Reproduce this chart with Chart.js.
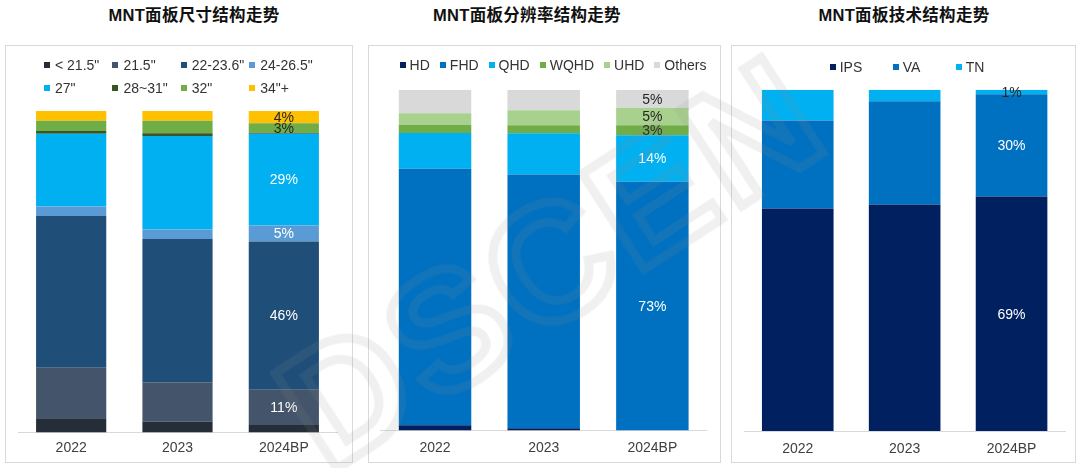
<!DOCTYPE html>
<html><head><meta charset="utf-8">
<script src="https://cdn.jsdelivr.net/npm/chart.js@4/dist/chart.umd.min.js"></script>
<style>
body{margin:0;width:1080px;height:468px;background:#fff;position:relative;overflow:hidden;font-family:"Liberation Sans",Arial,sans-serif}
.title{position:absolute;top:5px;font-weight:bold;font-size:16.5px;font-family:"Liberation Sans","Noto Sans CJK SC",sans-serif;letter-spacing:0.3px;color:#111;white-space:nowrap;transform:translateX(-50%);line-height:20px}
.panel{position:absolute;top:45px;height:418px;border:1px solid #d9d9d9;box-sizing:border-box;background:#fff}
.panel canvas{position:absolute;left:0;top:0}
.wm{position:absolute;left:552px;top:262px;transform:translate(-50%,-50%) rotate(-33deg);font:bold 165px "Liberation Sans",Arial,sans-serif;color:transparent;-webkit-text-stroke:9px rgba(140,140,140,0.13);letter-spacing:6px;white-space:nowrap;pointer-events:none;line-height:1}
</style>
</head><body>
<div class="title" style="left:194px">MNT面板尺寸结构走势</div>
<div class="title" style="left:527px">MNT面板分辨率结构走势</div>
<div class="title" style="left:904px">MNT面板技术结构走势</div>
<div class="panel" style="left:5px;width:348px"><canvas id="c1" width="346" height="426"></canvas></div>
<div class="panel" style="left:368px;width:353px"><canvas id="c2" width="351" height="426"></canvas></div>
<div class="panel" style="left:731px;width:345px"><canvas id="c3" width="343" height="426"></canvas></div>
<div class="wm">DSCEN</div>
<script>
// ---------- data ----------
const categories = ['2022', '2023', '2024BP'];

// Panel 1: size structure (%), bottom -> top
const sizeSeriesNames = ['< 21.5"', '21.5"', '22-23.6"', '24-26.5"', '27"', '28~31"', '32"', '34"+'];
const sizeBelow215 = [4.4, 3.4, 2.3];
const size215      = [15.7, 12.2, 11.0];
const size22to236  = [47.2, 44.6, 46.1];
const size24to265  = [3.0, 2.9, 5.0];
const size27       = [22.6, 29.1, 28.5];
const size28to31   = [0.9, 0.9, 0.3];
const size32       = [3.2, 3.9, 3.0];
const size34plus   = [3.0, 3.0, 3.8];
const sizeLabels2024 = ['', '11%', '46%', '5%', '29%', '', '3%', '4%'];

// Panel 2: resolution structure (%)
const resSeriesNames = ['HD', 'FHD', 'QHD', 'WQHD', 'UHD', 'Others'];
const resHD     = [1.5, 0.6, 0.0];
const resFHD    = [75.3, 74.5, 73.0];
const resQHD    = [10.5, 12.1, 13.6];
const resWQHD   = [2.4, 2.4, 3.0];
const resUHD    = [3.4, 4.4, 5.1];
const resOthers = [6.9, 6.0, 5.3];
const resLabels2024 = ['', '73%', '14%', '3%', '5%', '5%'];

// Panel 3: technology structure (%)
const techSeriesNames = ['IPS', 'VA', 'TN'];
const techIPS = [65.2, 66.4, 68.7];
const techVA  = [25.8, 30.2, 30.0];
const techTN  = [9.0, 3.4, 1.3];
const techLabels2024 = ['69%', '30%', '1%'];

// ---------- styles ----------
const FONT = '"Liberation Sans", Arial, sans-serif';
const DARK = '#262626', WHITE = '#ffffff';

// ---------- plugins ----------
const customLegend = {
  id: 'customLegend',
  afterDraw(chart, args, o) {
    if (!o || !o.mode) return;
    const ctx = chart.ctx, ds = chart.data.datasets, sz = o.box;
    ctx.save();
    ctx.font = o.fontSize + 'px ' + FONT;
    ctx.textBaseline = 'middle';
    ctx.textAlign = 'left';
    const drawItem = (d, cx, cy) => {
      ctx.fillStyle = d.backgroundColor;
      ctx.fillRect(Math.round(cx - sz / 2), Math.round(cy - sz / 2), sz, sz);
      ctx.fillStyle = o.color;
      ctx.fillText(d.label, cx + o.textOff, cy + 1);
    };
    if (o.mode === 'grid') {
      ds.forEach((d, i) => {
        const col = i % o.cols, row = Math.floor(i / o.cols);
        drawItem(d, o.x0 + col * o.colW, o.rows[row]);
      });
    } else {
      const widths = ds.map(d => sz / 2 + o.textOff + ctx.measureText(d.label).width);
      const total = widths.reduce((a, b) => a + b, 0) + sz / 2 + o.pad * (ds.length - 1);
      let x = o.cx - total / 2 + sz / 2;
      ds.forEach((d, i) => {
        drawItem(d, x, o.y);
        x += widths[i] + o.pad + sz / 2;
      });
    }
    ctx.restore();
  }
};

const segLabels = {
  id: 'segLabels',
  afterDatasetsDraw(chart) {
    const ctx = chart.ctx;
    ctx.save();
    ctx.font = '14px ' + FONT;
    ctx.textAlign = 'center';
    ctx.textBaseline = 'middle';
    chart.data.datasets.forEach((d, di) => {
      if (!d.segLabels) return;
      const meta = chart.getDatasetMeta(di);
      d.segLabels.forEach((t, i) => {
        if (!t) return;
        const el = meta.data[i];
        ctx.fillStyle = d.segLabelColor;
        ctx.fillText(t, el.x, (el.y + el.base) / 2 + 1);
      });
    });
    ctx.restore();
  }
};

function build(id, names, valueArrays, colors, lastLabels, labelColors, pad, barPct, tickPad, legendOpts) {
  const datasets = names.map((n, k) => ({
    label: n,
    data: valueArrays[k],
    backgroundColor: colors[k],
    borderWidth: 0,
    segLabels: ['', '', lastLabels[k]],
    segLabelColor: labelColors[k]
  }));
  return new Chart(document.getElementById(id), {
    type: 'bar',
    data: { labels: categories, datasets },
    options: {
      responsive: false,
      animation: false,
      layout: { padding: pad },
      datasets: { bar: { barPercentage: barPct, categoryPercentage: 1 } },
      plugins: { legend: { display: false }, tooltip: { enabled: false }, customLegend: legendOpts },
      scales: {
        x: {
          stacked: true,
          grid: { display: false, drawTicks: false },
          border: { display: true, color: '#d9d9d9', width: 1 },
          ticks: { color: '#404040', font: { size: 14, family: FONT }, padding: tickPad }
        },
        y: { stacked: true, display: false, min: 0, max: 100 }
      }
    },
    plugins: [customLegend, segLabels]
  });
}

build('c1', sizeSeriesNames,
  [sizeBelow215, size215, size22to236, size24to265, size27, size28to31, size32, size34plus],
  ['#252d38', '#44546a', '#1f4e79', '#5b9bd5', '#00b0f0', '#375623', '#70ad47', '#ffc000'],
  sizeLabels2024,
  [WHITE, WHITE, WHITE, WHITE, WHITE, DARK, DARK, DARK],
  { left: 12, right: 15, top: 65, bottom: 7.6 }, 0.66, 7.6,
  { mode: 'grid', box: 6, textOff: 8, fontSize: 14, color: '#333', x0: 41, colW: 68.4, cols: 4, rows: [19, 42] });

build('c2', resSeriesNames,
  [resHD, resFHD, resQHD, resWQHD, resUHD, resOthers],
  ['#002060', '#0070c0', '#00b0f0', '#70ad47', '#a9d18e', '#d9d9d9'],
  resLabels2024,
  [WHITE, WHITE, WHITE, DARK, DARK, DARK],
  { left: 11.7, right: 13.3, top: 43.7, bottom: 6.8 }, 0.667, 9,
  { mode: 'flow', box: 6, textOff: 7, pad: 7, fontSize: 14, color: '#333', cx: 178, y: 19.3 });

build('c3', techSeriesNames,
  [techIPS, techVA, techTN],
  ['#002060', '#0070c0', '#00b0f0'],
  techLabels2024,
  [WHITE, WHITE, DARK],
  { left: 12.3, right: 10, top: 43.7, bottom: 5.1 }, 0.67, 9.5,
  { mode: 'grid', box: 6, textOff: 7, fontSize: 14, color: '#333', x0: 100.7, colW: 63, cols: 3, rows: [20.7] });
</script>
</body></html>
